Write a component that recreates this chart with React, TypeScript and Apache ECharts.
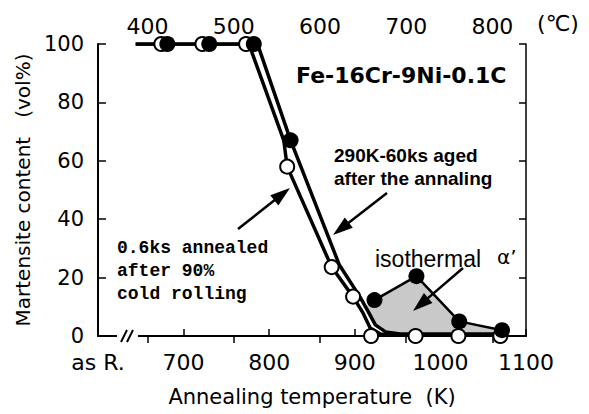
import React, { useEffect, useRef } from "react";
import * as echarts from "echarts";

// Bottom axis (K)
const xTicks = [600, 700, 800, 900, 1000, 1100];
const xTickLabels = ["as R.", "700", "800", "900", "1000", "1100"];
// Top axis (°C)
const cTicks = [400, 500, 600, 700, 800];
const yTicks = [0, 20, 40, 60, 80, 100];

// Measured points: as annealed (open circles)
const openK = [674, 722, 773, 821, 873, 898, 919, 971, 1021, 1070];
const openV = [100, 100, 100, 58, 23.6, 13.5, 0, 0, 0, 0];
// Measured points: 290K-60ks aged (filled circles)
const filledK = [681, 730, 782, 825, 923, 972, 1022, 1072];
const filledV = [100, 100, 100, 67, 12.3, 20.5, 5, 2];

// Drawn curve: annealed
const openCurveK = [644, 772, 778, 817, 821, 873, 898, 909, 918, 930, 953, 1076];
const openCurveV = [100, 100, 98.6, 67, 58, 23.6, 13.4, 8.2, 2.7, 0.7, 0.3, 0.3];
// Drawn curve: aged
const agedCurveK = [644, 783, 788, 825, 882, 906, 916, 924, 936, 953, 1076];
const agedCurveV = [100, 100, 98.6, 67, 24.3, 13.4, 8.2, 3.8, 1.4, 0.7, 0.7];
// Isothermal alpha' region edge (upper boundary) and its fill polygon
const isoEdgeK = [923, 972, 1022, 1072];
const isoEdgeV = [12.3, 20.5, 5, 2];
const isoFillK = [912, 923, 972, 1022, 1072, 1072, 953, 936, 924, 916];
const isoFillV = [10, 12.3, 20.5, 5, 2, 0.7, 0.7, 1.4, 3.8, 8.2];

const SANS = "DejaVu Sans";

function arrow(x1: number, y1: number, x2: number, y2: number, len = 20, w = 13) {
  const dx = x2 - x1, dy = y2 - y1;
  const L = Math.hypot(dx, dy);
  const ux = dx / L, uy = dy / L;
  const bx = x2 - ux * len, by = y2 - uy * len;
  const px = -uy, py = ux;
  return [
    { type: "line", z: 100, shape: { x1, y1, x2: bx + ux * 3, y2: by + uy * 3 }, style: { stroke: "#000", lineWidth: 2.5 } },
    {
      type: "polygon", z: 100,
      shape: { points: [[x2, y2], [bx + (px * w) / 2, by + (py * w) / 2], [bx - (px * w) / 2, by - (py * w) / 2]] },
      style: { fill: "#000" },
    },
  ];
}

function text(t: string, x: number, y: number, font: string, align = "left", valign = "middle", lineHeight?: number) {
  return {
    type: "text", z: 100, x, y,
    style: {
      text: t, font, fill: "#000",
      align, textAlign: align, verticalAlign: valign, textVerticalAlign: valign,
      lineHeight,
    },
  };
}

export default function App() {
  const ref = useRef<HTMLDivElement>(null);
  useEffect(() => {
    if (!ref.current) return;
    const chart = echarts.init(ref.current, null, { renderer: "svg" });
    const pair = (a: number[], b: number[]) => a.map((v, i) => [v, b[i]]);
    const option: any = {
      animation: false,
      backgroundColor: "#fff",
      grid: { left: 98, right: 63, top: 44, bottom: 78 },
      xAxis: [
        {
          type: "value", position: "bottom", min: xTicks[0], max: xTicks[xTicks.length - 1], interval: 100,
          axisLine: { lineStyle: { color: "#000", width: 2 } },
          axisTick: { inside: true, length: 7, lineStyle: { color: "#000", width: 1.5 } },
          axisLabel: {
            color: "#000", fontSize: 22, fontFamily: SANS, margin: 15,
            formatter: (v: number) => xTickLabels[xTicks.indexOf(v)] ?? String(v),
          },
          splitLine: { show: false },
          name: "Annealing temperature  (K)", nameLocation: "middle", nameGap: 50,
          nameTextStyle: { color: "#000", fontSize: 21, fontFamily: SANS },
        },
        {
          type: "value", position: "top", min: 342.5, max: 839,
          axisLine: { lineStyle: { color: "#000", width: 1.5 } },
          axisTick: { inside: true, length: 7, customValues: cTicks, lineStyle: { color: "#000", width: 1.5 } },
          axisLabel: { color: "#000", fontSize: 22, fontFamily: SANS, margin: 7, customValues: cTicks },
          splitLine: { show: false },
        },
      ],
      yAxis: [
        {
          type: "value", position: "left", min: yTicks[0], max: yTicks[yTicks.length - 1], interval: 20,
          axisLine: { show: true, lineStyle: { color: "#000", width: 2 } },
          axisTick: { show: true, inside: true, length: 8, lineStyle: { color: "#000", width: 1.5 } },
          axisLabel: { color: "#000", fontSize: 21, fontFamily: SANS, margin: 14, padding: [0, 0, 9, 0] },
          splitLine: { show: false },
          name: "Martensite content   (vol%)", nameLocation: "middle", nameGap: 64, nameRotate: 90,
          nameTextStyle: { color: "#000", fontSize: 20, fontFamily: SANS },
        },
        {
          type: "value", position: "right", min: yTicks[0], max: yTicks[yTicks.length - 1], interval: 20,
          axisLine: { show: true, lineStyle: { color: "#000", width: 1.5 } },
          axisTick: { show: true, inside: true, length: 7, lineStyle: { color: "#000", width: 1.5 } },
          axisLabel: { show: false },
          splitLine: { show: false },
        },
      ],
      series: [
        {
          type: "custom", name: "isothermal fill", z: 1, silent: true,
          data: [[isoFillK[0], isoFillV[0]]],
          renderItem: (params: any, api: any) => {
            const pts = isoFillK.map((k, i) => api.coord([k, isoFillV[i]]));
            return { type: "polygon", shape: { points: pts }, style: { fill: "#c9c9c9", stroke: "none" } };
          },
        },
        {
          type: "line", name: "annealed curve", z: 2, symbol: "none",
          data: pair(openCurveK, openCurveV),
          lineStyle: { color: "#000", width: 3.5 },
        },
        {
          type: "line", name: "aged curve", z: 2, symbol: "none",
          data: pair(agedCurveK, agedCurveV),
          lineStyle: { color: "#000", width: 3.5 },
        },
        {
          type: "line", name: "isothermal edge", z: 2, symbol: "none",
          data: pair(isoEdgeK, isoEdgeV),
          lineStyle: { color: "#000", width: 2.5 },
        },
        {
          type: "scatter", name: "annealed", z: 3, symbol: "circle", symbolSize: 14,
          data: pair(openK, openV),
          itemStyle: { color: "#fff", borderColor: "#000", borderWidth: 2, opacity: 1 },
        },
        {
          type: "scatter", name: "aged", z: 4, symbol: "circle", symbolSize: 16,
          data: pair(filledK, filledV),
          itemStyle: { color: "#000", opacity: 1 },
        },
      ],
      graphic: [
        // axis break
        { type: "rect", z: 100, shape: { x: 117, y: 331, width: 21, height: 10 }, style: { fill: "#fff" } },
        { type: "line", z: 101, shape: { x1: 121, y1: 342, x2: 127, y2: 330 }, style: { stroke: "#000", lineWidth: 2 } },
        { type: "line", z: 101, shape: { x1: 127, y1: 342, x2: 133, y2: 330 }, style: { stroke: "#000", lineWidth: 2 } },
        text("(℃)", 558, 23, `22px '${SANS}'`, "center"),
        text("Fe-16Cr-9Ni-0.1C", 296, 75, `bold 22px '${SANS}'`),
        text("290K-60ks aged\nafter the annaling", 334, 144, "bold 19px 'Liberation Sans'", "left", "top", 23),
        text("0.6ks annealed\nafter 90%\ncold rolling", 117, 236, "bold 18px 'Liberation Mono'", "left", "top", 23),
        text("isothermal", 375, 259, "23px 'Liberation Sans'"),
        text("α’", 497, 257, `20px '${SANS}'`),
        ...arrow(238, 229, 290, 188),
        ...arrow(387, 193, 333, 235),
        ...arrow(463, 268, 413, 311),
      ],
    };
    chart.setOption(option);
    return () => chart.dispose();
  }, []);
  return (
    <div
      ref={ref}
      style={{ position: "absolute", left: 0, top: 0, width: 589, height: 414 }}
    />
  );
}
